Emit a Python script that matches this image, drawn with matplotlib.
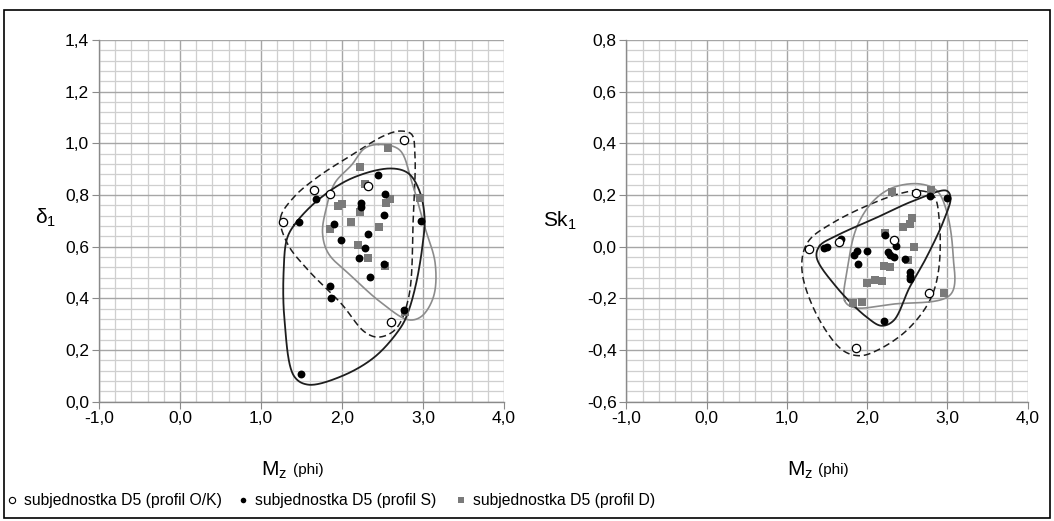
import matplotlib
matplotlib.use("Agg")
import matplotlib.pyplot as plt
import numpy as np
from matplotlib.lines import Line2D
from matplotlib.patches import Rectangle
from matplotlib.ticker import FuncFormatter, MultipleLocator

plt.rcParams["font.family"] = ["Liberation Sans", "DejaVu Sans"]

# --- DATA: left panel (Mz vs sorting) ---
L_OK_X = [1.27, 1.65, 1.85, 2.32, 2.76, 2.60]
L_OK_Y = [0.697, 0.818, 0.803, 0.837, 1.012, 0.307]

L_S_X = [2.45, 1.68, 2.53, 2.24, 2.23, 2.52, 1.47, 2.97, 1.90, 1.99,
         2.32, 2.29, 2.21, 2.52, 2.35, 1.85, 1.87, 2.76, 1.50]
L_S_Y = [0.877, 0.784, 0.803, 0.768, 0.753, 0.723, 0.697, 0.699, 0.687, 0.626,
         0.649, 0.595, 0.556, 0.533, 0.483, 0.448, 0.400, 0.356, 0.107]

L_D_X = [2.57, 2.22, 2.28, 2.59, 2.54, 2.00, 1.95, 2.11, 2.96, 1.85,
         2.46, 2.20, 2.32, 2.53, 2.78, 2.22]
L_D_Y = [0.981, 0.907, 0.841, 0.784, 0.768, 0.764, 0.759, 0.697, 0.788, 0.667,
         0.676, 0.606, 0.557, 0.525, 0.348, 0.733]

# hand-drawn envelopes (control points of closed curves)
L_ENV_OK_X = [1.24, 1.40, 1.70, 2.12, 2.52, 2.72, 2.86, 2.90, 2.88, 2.82,
              2.66, 2.45, 2.28, 1.99, 1.58, 1.33]
L_ENV_OK_Y = [0.71, 0.79, 0.87, 0.955, 1.03, 1.048, 1.035, 0.96, 0.72, 0.40,
              0.28, 0.25, 0.27, 0.38, 0.51, 0.61]
L_ENV_S_X = [1.41, 1.70, 2.12, 2.60, 2.82, 2.96, 3.02, 3.00, 2.92, 2.82,
             2.73, 2.41, 1.99, 1.58, 1.41, 1.29, 1.28, 1.32]
L_ENV_S_Y = [0.684, 0.78, 0.865, 0.903, 0.884, 0.813, 0.71, 0.62, 0.465, 0.35,
             0.29, 0.175, 0.098, 0.066, 0.098, 0.317, 0.51, 0.63]
L_ENV_D_X = [2.45, 2.71, 2.86, 3.02, 3.15, 3.13, 2.98, 2.82, 2.49, 2.12,
             1.83, 1.76, 1.80, 1.91, 2.12, 2.28]
L_ENV_D_Y = [0.996, 0.975, 0.852, 0.678, 0.536, 0.407, 0.33, 0.317, 0.382, 0.485,
             0.575, 0.652, 0.742, 0.846, 0.917, 0.981]

# --- DATA: right panel (Mz vs skewness) ---
R_OK_X = [1.27, 1.65, 2.33, 2.61, 2.77, 1.86]
R_OK_Y = [-0.010, 0.020, 0.026, 0.208, -0.181, -0.392]

R_S_X = [1.46, 1.50, 1.67, 1.84, 1.87, 1.89, 2.00, 2.22, 2.36, 2.26,
         2.29, 2.33, 2.47, 2.53, 2.53, 2.54, 2.21, 2.78, 2.99]
R_S_Y = [-0.005, 0.000, 0.030, -0.031, -0.015, -0.068, -0.015, 0.045, 0.003, -0.022,
         -0.031, -0.041, -0.046, -0.099, -0.112, -0.125, -0.286, 0.197, 0.187]

R_D_X = [2.31, 2.80, 2.22, 2.56, 2.53, 2.45, 2.59, 2.51, 2.21, 2.28,
         2.00, 2.10, 2.18, 1.83, 1.93, 2.96]
R_D_Y = [0.210, 0.221, 0.053, 0.113, 0.088, 0.075, 0.000, -0.051, -0.073, -0.077,
         -0.140, -0.128, -0.133, -0.217, -0.213, -0.181]

R_ENV_OK_X = [2.66, 2.83, 2.90, 2.89, 2.78, 2.49, 2.12, 1.91, 1.70, 1.41,
              1.20, 1.20, 1.29, 1.58, 2.00, 2.41]
R_ENV_OK_Y = [0.217, 0.197, 0.101, -0.093, -0.209, -0.325, -0.402, -0.422, -0.402, -0.286,
              -0.119, -0.028, 0.030, 0.094, 0.159, 0.206]
R_ENV_S_X = [1.41, 1.62, 2.12, 2.58, 2.99, 3.04, 2.97, 2.74, 2.53, 2.33,
             2.18, 2.00, 1.62, 1.37]
R_ENV_S_Y = [0.004, 0.043, 0.113, 0.178, 0.217, 0.191, 0.113, -0.041, -0.157, -0.286,
             -0.306, -0.274, -0.157, -0.040]
R_ENV_D_X = [1.72, 1.75, 1.87, 2.08, 2.33, 2.66, 2.87, 2.99, 3.07, 3.04,
             2.33, 1.83]
R_ENV_D_Y = [-0.209, -0.093, 0.075, 0.178, 0.230, 0.243, 0.217, 0.139, -0.028, -0.185,
             -0.222, -0.235]

LEGEND = ["subjednostka D5 (profil O/K)", "subjednostka D5 (profil S)",
          "subjednostka D5 (profil D)"]

GREY_PT = "#7a7a7a"
GREY_LINE = "#8c8c8c"
DARK = "#1e1e1e"
Y_STRETCH = 3.2  # y unit is ~3.2x longer on screen than x unit


def closed_curve(xs, ys, n=40, alpha=0.5):
    # periodic centripetal Catmull-Rom through the control points
    p = np.column_stack([xs, ys]).astype(float)
    q = p * [1.0, Y_STRETCH]
    m = len(p)
    out = []
    for i in range(m):
        idx = [(i - 1) % m, i, (i + 1) % m, (i + 2) % m]
        P = p[idx]
        Q = q[idx]
        t0 = 0.0
        t1 = t0 + np.linalg.norm(Q[1] - Q[0]) ** alpha
        t2 = t1 + np.linalg.norm(Q[2] - Q[1]) ** alpha
        t3 = t2 + np.linalg.norm(Q[3] - Q[2]) ** alpha
        t = np.linspace(t1, t2, n, endpoint=False)[:, None]
        a1 = (t1 - t) / (t1 - t0) * P[0] + (t - t0) / (t1 - t0) * P[1]
        a2 = (t2 - t) / (t2 - t1) * P[1] + (t - t1) / (t2 - t1) * P[2]
        a3 = (t3 - t) / (t3 - t2) * P[2] + (t - t2) / (t3 - t2) * P[3]
        b1 = (t2 - t) / (t2 - t0) * a1 + (t - t0) / (t2 - t0) * a2
        b2 = (t3 - t) / (t3 - t1) * a2 + (t - t1) / (t3 - t1) * a3
        out.append((t2 - t) / (t2 - t1) * b1 + (t - t1) / (t2 - t1) * b2)
    out = np.vstack(out + [p[:1]])
    return out[:, 0], out[:, 1]


def comma(v, pos):
    return f"{v:.1f}".replace(".", ",")


def style_axes(ax, ymin, ymax):
    ax.set_xlim(-1, 4)
    ax.set_ylim(ymin, ymax)
    ax.xaxis.set_major_locator(MultipleLocator(1.0))
    ax.xaxis.set_minor_locator(MultipleLocator(0.2))
    ax.yaxis.set_major_locator(MultipleLocator(0.2))
    ax.yaxis.set_minor_locator(MultipleLocator(0.04))
    ax.xaxis.set_major_formatter(FuncFormatter(comma))
    ax.yaxis.set_major_formatter(FuncFormatter(comma))
    ax.grid(which="minor", color="#cfcfcf", lw=0.9)
    ax.grid(which="major", color="#a6a6a6", lw=1.0)
    ax.set_axisbelow(True)
    ax.tick_params(which="minor", length=0)
    ax.tick_params(which="major", direction="out", length=5, color="#8a8a8a",
                   labelsize=12.5, pad=2)
    for side in ("top", "right"):
        ax.spines[side].set_visible(False)
    for side in ("left", "bottom"):
        ax.spines[side].set_color("#8a8a8a")
        ax.spines[side].set_linewidth(1.0)


def draw_panel(ax, ok, s, d, env_ok, env_s, env_d):
    x, y = closed_curve(*env_ok)
    ax.plot(x, y, color=DARK, lw=1.1, ls=(0, (4.5, 2.5)), zorder=3)
    x, y = closed_curve(*env_d)
    ax.plot(x, y, color=GREY_LINE, lw=1.2, zorder=3)
    x, y = closed_curve(*env_s)
    ax.plot(x, y, color=DARK, lw=1.3, zorder=3)
    ax.scatter(*d, marker="s", s=26, color=GREY_PT, lw=0, zorder=4)
    ax.scatter(*s, marker="o", s=32, color="black", lw=0, zorder=5)
    ax.scatter(*ok, marker="o", s=36, facecolor="white", edgecolor="black",
               lw=0.9, zorder=6)


fig = plt.figure(figsize=(10.54, 5.21), dpi=100)

ax1 = fig.add_axes([0.0939, 0.229, 0.3843, 0.694])
ax2 = fig.add_axes([0.5944, 0.229, 0.3805, 0.694])

style_axes(ax1, 0.0, 1.4)
style_axes(ax2, -0.6, 0.8)

draw_panel(ax1, (L_OK_X, L_OK_Y), (L_S_X, L_S_Y), (L_D_X, L_D_Y),
           (L_ENV_OK_X, L_ENV_OK_Y), (L_ENV_S_X, L_ENV_S_Y), (L_ENV_D_X, L_ENV_D_Y))
draw_panel(ax2, (R_OK_X, R_OK_Y), (R_S_X, R_S_Y), (R_D_X, R_D_Y),
           (R_ENV_OK_X, R_ENV_OK_Y), (R_ENV_S_X, R_ENV_S_Y), (R_ENV_D_X, R_ENV_D_Y))

# axis titles
for ax in (ax1, ax2):
    ax.text(0.465, -0.19, r"M$_\mathregular{z}$", transform=ax.transAxes,
            fontsize=15, ha="right", va="center")
    ax.text(0.478, -0.19, "(phi)", transform=ax.transAxes,
            fontsize=11, ha="left", va="center")
ax1.text(-0.133, 0.508, r"$\mathregular{\delta_1}$", transform=ax1.transAxes,
         fontsize=15, ha="center", va="center")
ax2.text(-0.165, 0.50, r"Sk$_\mathregular{1}$", transform=ax2.transAxes,
         fontsize=15, ha="center", va="center")

# legend row
leg_y = 1 - 500 / 521
marker_x = [12 / 1054, 243 / 1054, 461 / 1054]
styles = [dict(marker="o", mfc="white", mec="black", ms=4.5, mew=0.8),
          dict(marker="o", mfc="black", mec="black", ms=4, mew=0),
          dict(marker="s", mfc=GREY_PT, mec=GREY_PT, ms=4, mew=0)]
for mx, label, st in zip(marker_x, LEGEND, styles):
    fig.add_artist(Line2D([mx], [leg_y], transform=fig.transFigure, ls="none", **st))
    fig.text(mx + 12 / 1054, leg_y, label, fontsize=11.3, va="center", ha="left")

# frame round the whole figure
fig.add_artist(Rectangle((4 / 1054, 3 / 521), 1046 / 1054, 508 / 521,
                         transform=fig.transFigure, fill=False,
                         edgecolor="black", lw=1.2))

fig.savefig("out.png", dpi=100, facecolor="white")
